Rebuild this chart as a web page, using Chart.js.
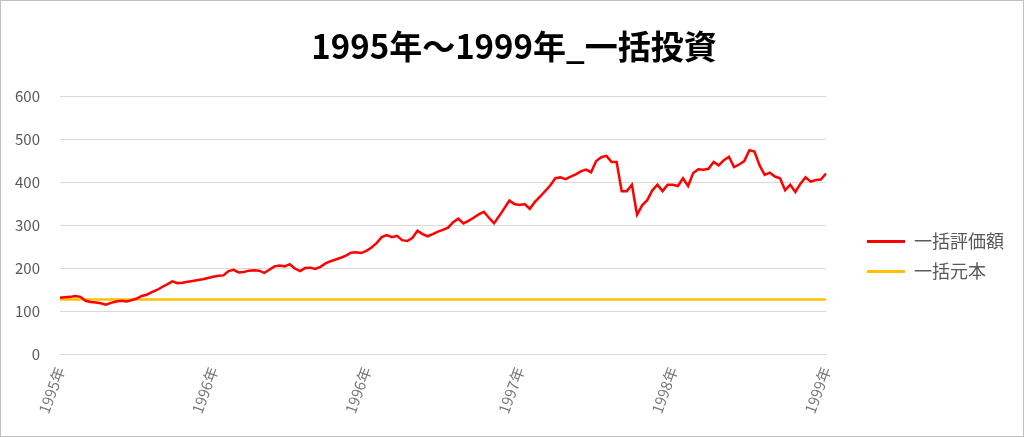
<!DOCTYPE html>
<html>
<head>
<meta charset="utf-8">
<script src="https://cdn.jsdelivr.net/npm/chart.js@4/dist/chart.umd.min.js"></script>
<style>
	body { margin: 0; background: #fff; }
	#frame { width: 1022px; height: 435px; border: 1px solid #bfbfbf; }
</style>
</head>
<body>
<div id="frame"><canvas id="lumpChart"></canvas></div>
<script>
// x-axis labels shown every 30 points
const tickLabels = ['1995年', '1996年', '1996年', '1997年', '1998年', '1999年'];
const tickEvery = 30;

// 一括評価額 (151 points across the period)
const valuation = [
	132, 133, 134, 136, 134, 125, 122, 121, 119, 116,
	120, 123, 125, 123, 126, 130, 136, 139, 145, 150,
	157, 163, 170, 166, 167, 169, 171, 173, 175, 178,
	181, 183, 184, 194, 197, 191, 192, 195, 196, 195,
	190, 197, 205, 207, 205, 210, 200, 194, 201, 202,
	199, 204, 212, 217, 221, 225, 230, 237, 238, 236,
	241, 249, 259, 273, 278, 273, 276, 266, 264, 271,
	288, 280, 275, 280, 286, 290, 295, 308, 316, 305,
	311, 318, 326, 332, 318, 305, 322, 340, 358, 350,
	348, 350, 339, 355, 367, 380, 393, 410, 412, 408,
	414, 419, 426, 430, 424, 450, 459, 462, 448, 448,
	380, 380, 395, 325, 347, 359, 382, 395, 380, 395,
	395, 392, 410, 392, 422, 431, 430, 432, 448, 440,
	452, 460, 436, 442, 450, 475, 472, 440, 418, 423,
	414, 410, 382, 395, 378, 397, 412, 402, 406, 407,
	421
];

// 一括元本 (flat amount invested at the start)
const principal = 128;

const seriesNames = ['一括評価額', '一括元本'];
const seriesColors = ['#ff0000', '#ffc000'];

const labels = valuation.map((v, i) => i % tickEvery === 0 ? tickLabels[i / tickEvery] : '');
const principalLine = valuation.map(() => principal);

const fontFamily = '"Noto Sans CJK JP", "Noto Sans", sans-serif';

const ctx = document.getElementById('lumpChart').getContext('2d');
new Chart(ctx, {
	type: 'line',
	data: {
		labels: labels,
		datasets: [
			{
				label: seriesNames[0],
				data: valuation,
				borderColor: seriesColors[0],
				backgroundColor: seriesColors[0],
				borderWidth: 2.5,
				pointRadius: 0,
				tension: 0
			},
			{
				label: seriesNames[1],
				data: principalLine,
				borderColor: seriesColors[1],
				backgroundColor: seriesColors[1],
				borderWidth: 2.5,
				pointRadius: 0
			}
		]
	},
	options: {
		responsive: true,
		maintainAspectRatio: false,
		animation: false,
		layout: {
			padding: { left: 13, right: 9, top: 10, bottom: 18 }
		},
		plugins: {
			title: {
				display: true,
				text: '1995年～1999年_一括投資',
				color: '#000',
				font: { family: fontFamily, size: 33, weight: 'bold' },
				padding: { top: 16, bottom: 30 }
			},
			legend: {
				position: 'right',
				title: {
					// blank title only pushes the legend items down
					display: true,
					text: ' ',
					font: { size: 10 },
					padding: { top: 72, bottom: 0 }
				},
				labels: {
					color: '#595959',
					font: { family: fontFamily, size: 18 },
					boxWidth: 38,
					boxHeight: 3,
					padding: 12,
					generateLabels: chart => Chart.defaults.plugins.legend.labels.generateLabels(chart)
						.map(item => Object.assign(item, { lineWidth: 0 }))
				}
			},
			tooltip: { enabled: false }
		},
		scales: {
			x: {
				grid: { display: false },
				border: { display: true, color: '#d9d9d9' },
				ticks: {
					autoSkip: false,
					maxRotation: 70,
					minRotation: 70,
					color: '#767676',
					font: { family: fontFamily, size: 15 },
					padding: 2
				},
				// rotated first label fits under the y labels, no extra room needed
				afterFit: scale => { scale.paddingLeft = 0; scale.paddingRight = 0; }
			},
			y: {
				min: 0,
				max: 600,
				ticks: {
					stepSize: 100,
					color: '#595959',
					font: { family: fontFamily, size: 15 },
					padding: 20
				},
				grid: { color: '#d9d9d9', drawTicks: false },
				border: { display: false },
				afterFit: scale => { scale.width = 46; }
			},
			gap: {
				// empty right axis keeps space between plot and legend
				position: 'right',
				min: 0,
				max: 1,
				grid: { display: false },
				border: { display: false },
				ticks: { display: false },
				afterFit: scale => { scale.width = 29; }
			}
		}
	}
});
</script>
</body>
</html>
